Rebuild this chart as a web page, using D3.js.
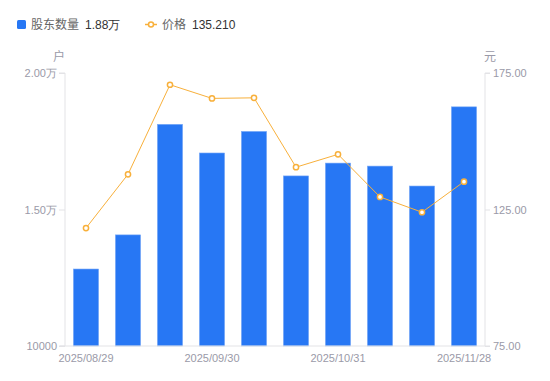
<!DOCTYPE html>
<html><head><meta charset="utf-8">
<script src="https://cdn.jsdelivr.net/npm/d3@7"></script>
<style>body{margin:0;background:#fff;font-family:"Noto Sans CJK SC","Noto Sans",sans-serif;}</style>
</head><body><svg id="c" width="550" height="381"></svg>
<script>
const dates = ["2025/08/29","2025/09/10","2025/09/19","2025/09/30","2025/10/10","2025/10/20","2025/10/31","2025/11/10","2025/11/20","2025/11/28"];
const holders = [12820, 14070, 18120, 17070, 17860, 16230, 16700, 16590, 15860, 18760];
const prices = [118.2, 137.9, 170.7, 165.7, 165.9, 140.5, 145.2, 129.6, 124.0, 135.21];
const leftTicks = [10000, 15000, 20000];
const rightTicks = [75, 125, 175];
const shownDates = ["2025/08/29","2025/09/30","2025/10/31","2025/11/28"];

const svg = d3.select("#c");
const m = {l:65, r:485, t:73, b:346};
const x = d3.scaleBand().domain(dates).range([m.l, m.r]).paddingInner(0.4).paddingOuter(0.2);
const yL = d3.scaleLinear().domain([10000, 20000]).range([m.b, m.t]);
const yR = d3.scaleLinear().domain([75, 175]).range([m.b, m.t]);
const axisColor = "#e3e3e6", textColor = "#9a9aa8";
const blue = "#2777f4", orange = "#f8b03b";

// bars
svg.append("g").selectAll("rect").data(holders).join("rect")
  .attr("x", (d,i)=>x(dates[i])).attr("width", x.bandwidth())
  .attr("y", d=>yL(d)).attr("height", d=>yL(10000)-yL(d))
  .attr("fill", blue).attr("stroke", "#7aaaf7").attr("stroke-width", 0.6);

// left axis
const fmtL = d => d===10000 ? "10000" : (d/10000).toFixed(2)+"万";
const gL = svg.append("g").attr("transform", `translate(${m.l},0)`)
  .call(d3.axisLeft(yL).tickValues(leftTicks).tickFormat(fmtL).tickSize(6).tickPadding(2));
// right axis
const gR = svg.append("g").attr("transform", `translate(${m.r},0)`)
  .call(d3.axisRight(yR).tickValues(rightTicks).tickFormat(d=>d.toFixed(2)).tickSize(5).tickPadding(3));
// bottom axis
const gB = svg.append("g").attr("transform", `translate(0,${m.b})`)
  .call(d3.axisBottom(x).tickValues(shownDates).tickSize(0).tickPadding(8));
[gL,gR,gB].forEach(g=>{
  g.selectAll("path,line").attr("stroke", axisColor);
  g.selectAll("text").attr("fill", textColor).style("font-family","Liberation Sans, Arial, sans-serif").style("font-size","11px");
});
gL.select("path").attr("d", `M-6,${m.t}H0V${m.b}H-6`);
gR.select("path").attr("d", `M5,${m.t}H0V${m.b}H5`);
gB.select("path").attr("d", `M${m.l-5},0H${m.r}`);
gL.selectAll("text").attr("dy","0.35em");

// line
const cx = (i)=>x(dates[i])+x.bandwidth()/2;
svg.append("path").datum(prices)
  .attr("d", d3.line().x((d,i)=>cx(i)).y(d=>yR(d)))
  .attr("fill","none").attr("stroke", orange).attr("stroke-width",1);
svg.append("g").selectAll("circle").data(prices).join("circle")
  .attr("cx",(d,i)=>cx(i)).attr("cy",d=>yR(d)).attr("r",2.6)
  .attr("fill","#fff").attr("stroke",orange).attr("stroke-width",1.5);

// unit labels
svg.append("text").attr("x",59).attr("y",61).attr("text-anchor","middle").attr("fill",textColor).style("font-size","12px").text("户");
svg.append("text").attr("x",490).attr("y",61).attr("text-anchor","middle").attr("fill",textColor).style("font-size","12px").text("元");

// legend
const lg = svg.append("g");
lg.append("rect").attr("x",17).attr("y",20).attr("width",9).attr("height",9).attr("rx",1.5).attr("fill",blue);
lg.append("text").attr("x",31).attr("y",29).attr("fill","#666").style("font-size","12px").text("股东数量");
lg.append("text").attr("x",85).attr("y",29).attr("fill","#333").style("font-size","12px").style("font-family","Liberation Sans, Arial, sans-serif").text((holders[holders.length-1]/10000).toFixed(2)+"万");
lg.append("line").attr("x1",145).attr("x2",157).attr("y1",24.5).attr("y2",24.5).attr("stroke",orange).attr("stroke-width",1.5);
lg.append("circle").attr("cx",151).attr("cy",24.5).attr("r",2.5).attr("fill","#fff").attr("stroke",orange).attr("stroke-width",1.5);
lg.append("text").attr("x",162).attr("y",29).attr("fill","#666").style("font-size","12px").text("价格");
lg.append("text").attr("x",192).attr("y",29).attr("fill","#333").style("font-size","12px").style("font-family","Liberation Sans, Arial, sans-serif").text(prices[prices.length-1].toFixed(3));
</script></body></html>
